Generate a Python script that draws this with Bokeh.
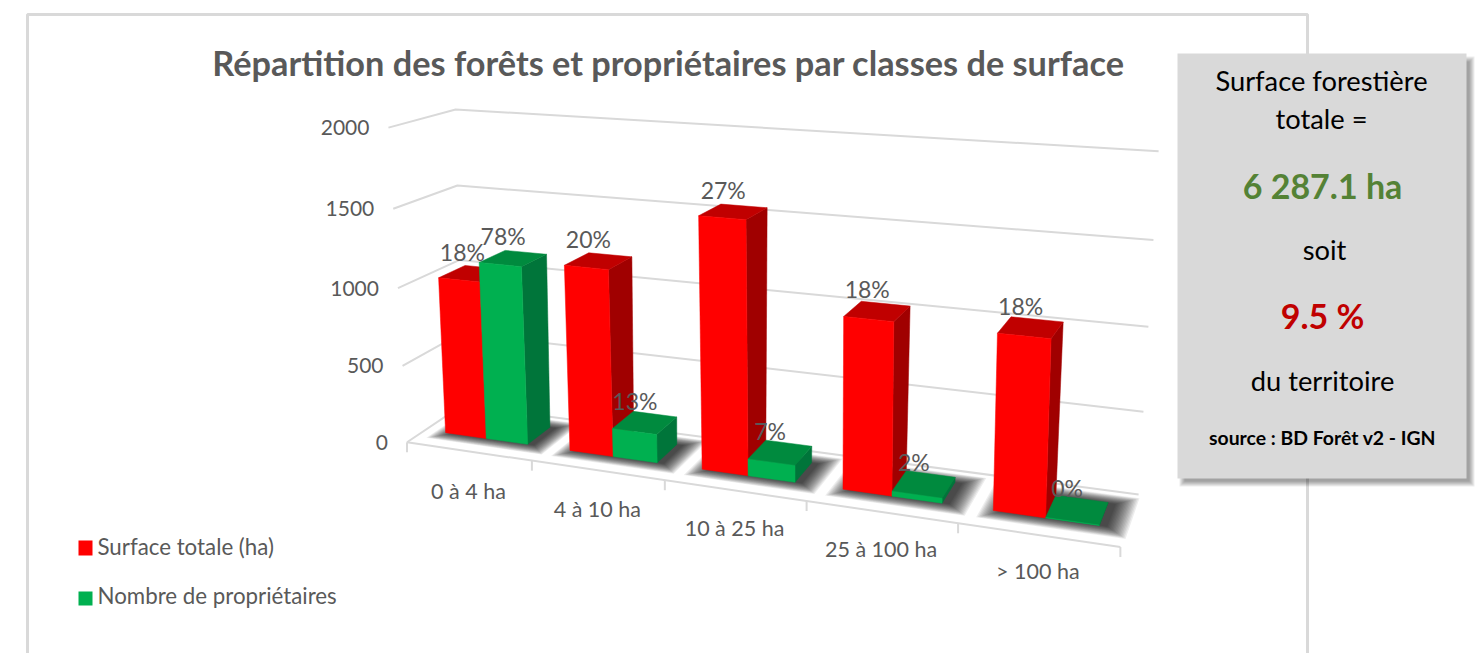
import numpy as np
from bokeh.plotting import figure
from bokeh.models import Range1d
from bokeh.core.properties import value
from bokeh.embed import file_html
from bokeh.resources import INLINE

# ---------- data ----------
categories = ["0 à 4 ha", "4 à 10 ha", "10 à 25 ha", "25 à 100 ha", "> 100 ha"]
surface_totale = [1020, 1180, 1556, 1040, 1035]
nb_proprietaires = [1145, 180, 105, 30, 3]
surface_labels = ["18%", "20%", "27%", "18%", "18%"]
proprietaires_labels = ["78%", "13%", "7%", "2%", "0%"]
y_ticks = [0, 500, 1000, 1500, 2000]
series_names = ["Surface totale (ha)", "Nombre de propriétaires"]
title_text = "Répartition des forêts et propriétaires par classes de surface"
panel_lines = ["Surface forestière", "totale =", "6 287.1 ha", "soit", "9.5 %", "du territoire", "source : BD Forêt v2 - IGN"]

GRID = "#d9d9d9"
TXT = "#595959"
FONT = value("Lato")

# ---------- camera: projective map (category, depth, value) -> page pixels ----------
calib = [
    (0,0,2000,388,127),(0,0,1500,393,208),(0,0,1000,397,288),(0,0,500,402,366),(0,0,0,406,441),
    (0,1,2000,455,109),(0,1,1500,457,186),(0,1,1000,459,258),(0,1,500,460,333),(0,1,0,462,405),
    (5,1,2000,1158,151),(5,1,1500,1153,239),(5,1,1000,1148,327),(5,1,500,1143,411),(5,1,0,1138,494),
    (1,0,0,532,460),(2,0,0,665,480),(3,0,0,806,501),(4,0,0,957,523),(5,0,0,1120,546),
]
W = np.ones(len(calib))
H = None
for _ in range(12):  # iteratively reweighted, so the error is measured in pixels
    A = []; b = []
    for k, (u, d, z, x, y) in enumerate(calib):
        v = [u/5, d, z/2000, 1]
        f = W[k]
        A.append([f*t for t in v + [0,0,0,0] + [-x*t for t in v[:3]]]); b.append(f*x)
        A.append([f*t for t in [0,0,0,0] + v + [-y*t for t in v[:3]]]); b.append(f*y)
    H = np.linalg.lstsq(np.array(A, float), np.array(b, float), rcond=None)[0]
    W = np.array([1.0 / (H[8]*u/5 + H[9]*d + H[10]*z/2000 + 1) for u, d, z, _, _ in calib])

def proj0(u, d, z):
    v = np.array([u/5, d, z/2000, 1.0])
    w = H[8:11] @ v[:3] + 1
    return float(H[:4] @ v / w), float(H[4:8] @ v / w)

def terms(u, d, z):
    a, c = u/5, z/2000
    return [1, a, d, c, a*d, a*c, d*c, c*c]

# smooth residual correction: the picture is not an exact perspective
T = np.array([terms(u, d, z) for u, d, z, _, _ in calib])
Rx = np.array([x - proj0(u, d, z)[0] for u, d, z, x, _ in calib])
Ry = np.array([y - proj0(u, d, z)[1] for u, d, z, _, y in calib])
Cx = np.linalg.lstsq(T, Rx, rcond=None)[0]
Cy = np.linalg.lstsq(T, Ry, rcond=None)[0]

def proj(u, d, z):
    x, y = proj0(u, d, z)
    t = np.array(terms(u, d, z))
    return x + float(t @ Cx), y + float(t @ Cy)

p = figure(width=1478, height=653, output_backend="svg", toolbar_location=None,
           x_range=Range1d(0, 1478), y_range=Range1d(653, 0), min_border=0,
           x_axis_location=None, y_axis_location=None, outline_line_color=None)
p.grid.visible = False
p.background_fill_color = "white"

def poly(pts, color, alpha=1.0):
    p.patch([a for a, _ in pts], [c for _, c in pts], fill_color=color, line_color=color if alpha == 1 else None,
            line_width=0.5, fill_alpha=alpha)

def seg(pts, color=GRID, w=2):
    p.line([a for a, _ in pts], [c for _, c in pts], line_color=color, line_width=w)

# outer frame
seg([(27, 653), (27, 14), (1307, 14), (1307, 653)], GRID, 3)

# walls' gridlines
for t in y_ticks:
    seg([proj(0, 0, t), proj(0, 1, t), proj(5, 1, t)])
# floor front edge and ticks
seg([proj(0, 0, 0), proj(5, 0, 0)])
for i in range(6):
    x0, y0 = proj(i, 0, 0)
    seg([(x0, y0), (x0, y0 + 10)])

# texts of axes
xs, ys = zip(*[proj(0, 0, t) for t in y_ticks])
p.text([a - 19 for a in xs], list(ys), text=[str(t) for t in y_ticks], text_font=FONT, text_font_size="21px",
       text_color=TXT, text_align="right", text_baseline="middle")
xs, ys = zip(*[proj(i + .5, 0, 0) for i in range(5)])
p.text(list(xs), [a + 40 - i for i, a in enumerate(ys)], text=categories, text_font=FONT, text_font_size="21.5px",
       text_color=TXT, text_align="center", text_baseline="middle")

# ---------- bars ----------
BW = 1/3; GAP = 1/6; D0, D1 = 0.32, 0.76
def shadow(i):
    u0, u1 = i + GAP, i + 1 - GAP
    for e in np.linspace(0.13, 0.0, 16):
        ed = e * 1.3
        pts = [proj(u0 - e + .05, D0 - ed, 0), proj(u1 + e + .05, D0 - ed, 0),
               proj(u1 + e + .05, D1 + ed, 0), proj(u0 - e + .05, D1 + ed, 0)]
        poly(pts, "#000000", 0.07)

def bar(u0, v, front, top, side):
    u1 = u0 + BW
    poly([proj(u1, D0, 0), proj(u1, D1, 0), proj(u1, D1, v), proj(u1, D0, v)], side)
    poly([proj(u0, D0, v), proj(u1, D0, v), proj(u1, D1, v), proj(u0, D1, v)], top)
    poly([proj(u0, D0, 0), proj(u1, D0, 0), proj(u1, D0, v), proj(u0, D0, v)], front)

for i in range(5):
    shadow(i)
for i in range(5):
    bar(i + GAP, surface_totale[i], "#ff0000", "#c00000", "#a00000")
    bar(i + GAP + BW, nb_proprietaires[i], "#00b050", "#008a3e", "#00753a")

lx, ly, lt = [], [], []
for i in range(5):
    for off, val, lab in ((GAP + BW/2, surface_totale[i], surface_labels[i]),
                          (GAP + BW*1.5, nb_proprietaires[i], proprietaires_labels[i])):
        a, c = proj(i + off, (D0 + D1)/2, val)
        lx.append(a - 10); ly.append(c - 22); lt.append(lab)
p.text(lx, ly, text=lt, text_font=FONT, text_font_size="23px", text_color=TXT,
       text_align="center", text_baseline="middle")

# title
p.text([668], [62], text=[title_text], text_font=FONT, text_font_size="34.3px", text_font_style="bold",
       text_color="#595959", text_align="center", text_baseline="middle")

# legend
p.quad(left=[78], right=[92], top=[540], bottom=[555], fill_color="#ff0000", line_color=None)
p.quad(left=[78], right=[92], top=[591], bottom=[605], fill_color="#00b050", line_color=None)
p.text([97, 97], [546, 595], text=series_names, text_font=FONT, text_font_size="22.3px", text_color=TXT,
       text_align="left", text_baseline="middle")

# side panel with its shadow
for e in range(6):
    p.quad(left=[1177 + 2 + e], right=[1466 + 8 - e], top=[53 + 3 + e], bottom=[478 + 8 - e],
           fill_color="#000000", fill_alpha=0.07, line_color=None)
p.quad(left=[1177], right=[1466], top=[53], bottom=[478], fill_color="#d9d9d9", line_color=None)
panel_y = [80, 118, 185, 249, 315, 380, 437]
panel_x = [1321, 1321, 1322, 1324, 1322, 1322, 1322]
panel_size = ["27.3px", "27.3px", "34px", "27.3px", "34px", "27.3px", "19.4px"]
panel_col = ["#000000", "#000000", "#548235", "#000000", "#c00000", "#000000", "#000000"]
panel_sty = ["normal", "normal", "bold", "normal", "bold", "normal", "bold"]
for i, t in enumerate(panel_lines):
    p.text([panel_x[i]], [panel_y[i]], text=[t], text_font=FONT, text_font_size=panel_size[i],
           text_font_style=panel_sty[i], text_color=panel_col[i], text_align="center", text_baseline="middle")

open("out.html", "w").write(file_html(p, INLINE))
